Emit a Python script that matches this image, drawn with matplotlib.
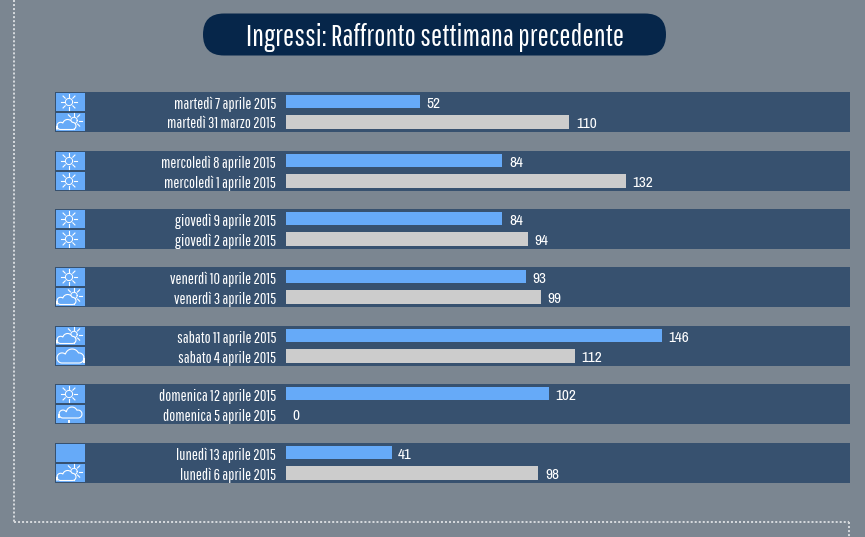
import numpy as np
import matplotlib
matplotlib.use('Agg')
import matplotlib.pyplot as plt
from matplotlib.patches import Rectangle, FancyBboxPatch

plt.rcParams['font.family'] = ['Pathway Gothic One', 'Archivo Narrow', 'DejaVu Sans']

current_days = ['martedì 7 aprile 2015', 'mercoledì 8 aprile 2015', 'giovedì 9 aprile 2015',
                'venerdì 10 aprile 2015', 'sabato 11 aprile 2015', 'domenica 12 aprile 2015',
                'lunedì 13 aprile 2015']
previous_days = ['martedì 31 marzo 2015', 'mercoledì 1 aprile 2015', 'giovedì 2 aprile 2015',
                 'venerdì 3 aprile 2015', 'sabato 4 aprile 2015', 'domenica 5 aprile 2015',
                 'lunedì 6 aprile 2015']
current_values = [52, 84, 84, 93, 146, 102, 41]
previous_values = [110, 132, 94, 99, 112, 0, 98]
current_weather = ['sun', 'sun', 'sun', 'sun', 'cloudsun', 'sun', None]
previous_weather = ['cloudsun', 'sun', 'sun', 'cloudsun', 'cloud', 'rain', 'cloudsun']
title = 'Ingressi: Raffronto settimana precedente'

BG = '#7b8691'
BAND = '#37516f'
BLUE = '#66aaf8'
GREY = '#cccccc'
PILL = '#06264a'
DOTS = '#d4d8dc'

W, H = 865, 537
fig = plt.figure(figsize=(W / 100, H / 100), dpi=100, facecolor=BG)

# whole figure in pixels, for the frame and the rows
ax = fig.add_axes([0, 0, 1, 1])
ax.set_xlim(0, W)
ax.set_ylim(H, 0)
ax.axis('off')

# bars get their own x scale, starting at the zero line
px_per_unit = 2.576
bar_left, bar_right = 286, 850
ax_bars = fig.add_axes([bar_left / W, 0, (bar_right - bar_left) / W, 1])
ax_bars.set_xlim(0, (bar_right - bar_left) / px_per_unit)
ax_bars.set_ylim(H, 0)
ax_bars.axis('off')
ax_bars.patch.set_alpha(0)


def draw_sun(cx, cy, r=3.6):
    t = np.linspace(0, 2 * np.pi, 40)
    ax.plot(cx + r * np.cos(t), cy + r * np.sin(t), color='white', lw=0.7, zorder=5)
    for a in np.arange(0, 2 * np.pi, np.pi / 4):
        ax.plot([cx + (r + 1.8) * np.cos(a), cx + (r + 4.8) * np.cos(a)],
                [cy + (r + 1.8) * np.sin(a), cy + (r + 4.8) * np.sin(a)],
                color='white', lw=0.8, zorder=5)


def draw_cloud(cx, cy, w=24, h=11):
    # outline is the envelope of three circles with a flat base between the side ones
    base = cy + h / 2
    r_side = h * 0.36
    r_top = h * 0.5
    left = (cx - w / 2 + r_side, base - r_side, r_side)
    dome = (cx + w * 0.06, base - h + r_top, r_top)
    right = (cx + w / 2 - r_side, base - r_side, r_side)
    xs = np.linspace(cx - w / 2, cx + w / 2, 120)
    tops = np.full_like(xs, base)
    for x0, y0, r in (left, dome, right):
        inside = np.abs(xs - x0) <= r
        tops[inside] = np.minimum(tops[inside], y0 - np.sqrt(r ** 2 - (xs[inside] - x0) ** 2))
    bottoms = np.full_like(xs, base)
    for x0, y0, r, outer in ((*left, xs < left[0]), (*right, xs > right[0])):
        bottoms[outer] = y0 + np.sqrt(np.maximum(r ** 2 - (xs[outer] - x0) ** 2, 0))
    ax.fill(np.r_[xs, xs[::-1]], np.r_[tops, bottoms[::-1]], facecolor=BLUE, edgecolor='white', lw=0.8, zorder=6)


def draw_icon(kind, top):
    ax.add_patch(Rectangle((56, top), 29, 18, facecolor=BLUE, edgecolor='none', zorder=4))
    cx, cy = 70.5, top + 9
    if kind == 'sun':
        draw_sun(cx - 1.5, cy)
    elif kind == 'cloudsun':
        draw_sun(cx + 3.5, cy - 1.5, r=3.2)
        draw_cloud(cx - 4, cy + 2.5, w=19, h=10)
    elif kind == 'cloud':
        draw_cloud(cx, cy, w=27, h=14)
    elif kind == 'rain':
        draw_cloud(cx, cy - 1.5, w=23, h=11)
        ax.plot([cx - 1.5, cx - 1.5], [cy + 6.5, cy + 8], color='white', lw=1.4, zorder=6)


group_tops = [92, 151, 209, 267, 326, 384, 443]
for i, top in enumerate(group_tops):
    ax.add_patch(Rectangle((55, top), 795, 40, facecolor=BAND, edgecolor='none', zorder=1))
    draw_icon(current_weather[i], top + 1)
    draw_icon(previous_weather[i], top + 21)
    ax.text(276, top + 12, current_days[i], color='white', fontsize=11.5, ha='right', va='center', zorder=5)
    ax.text(276, top + 32, previous_days[i], color='white', fontsize=11.5, ha='right', va='center', zorder=5)

    ax_bars.barh(top + 9.5, current_values[i], height=13, color=BLUE, zorder=3)
    ax_bars.barh(top + 30, previous_values[i], height=14, color=GREY, zorder=3)
    ax_bars.annotate(str(current_values[i]), (current_values[i], top + 12), xytext=(6.5, 0),
                     textcoords='offset pixels', color='white', fontsize=11,
                     family='Archivo Narrow', va='center')
    ax_bars.annotate(str(previous_values[i]), (previous_values[i], top + 32), xytext=(6.5, 0),
                     textcoords='offset pixels', color='white', fontsize=11,
                     family='Archivo Narrow', va='center')

# title pill
ax.add_patch(FancyBboxPatch((203, 13.5), 463, 42, boxstyle='round,pad=0,rounding_size=21',
                            facecolor=PILL, edgecolor='none', zorder=2))
ax.text(435, 37.5, title, color='white', fontsize=21.5, ha='center', va='center', zorder=3)

# dotted frame, open at the top right
frame = dict(color=DOTS, lw=1.45, linestyle=(0, (1, 1)), zorder=1)
ax.plot([14, 14], [0, 522], **frame)
ax.plot([14, 849], [522, 522], **frame)
ax.plot([849, 849], [522, H], **frame)

fig.savefig('out.png', dpi=100, facecolor=BG)
